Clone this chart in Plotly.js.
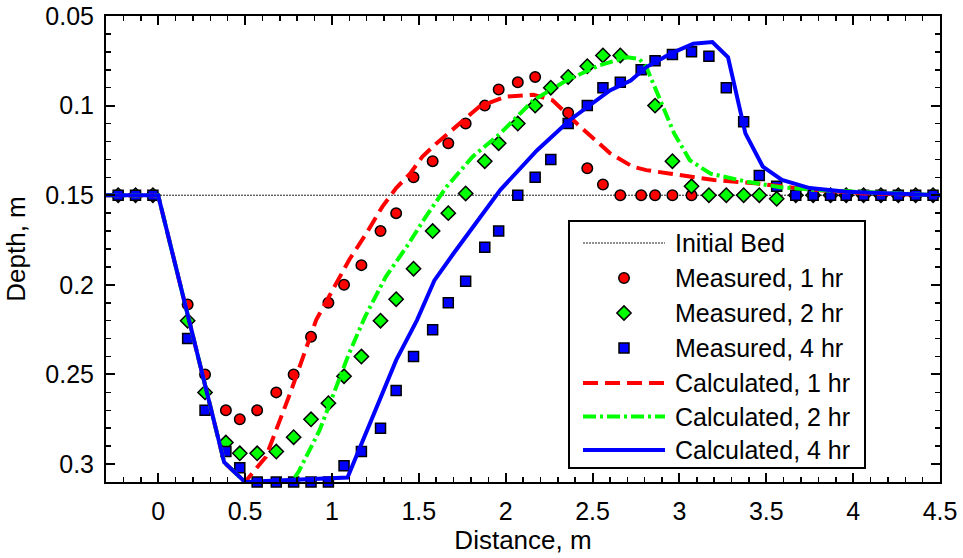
<!DOCTYPE html>
<html>
<head>
<meta charset="utf-8">
<script src="https://cdn.plot.ly/plotly-3.0.1.min.js"></script>
<style>html,body{margin:0;padding:0;background:#fff;}#chart{width:963px;height:558px;}</style>
</head>
<body>
<div id="chart"></div>
<script>
// ---- data ----
const initX = [-0.3, 4.5];
const initY = [0.15, 0.15];

const m1X = [-0.23,-0.13,-0.03,0.17,0.27,0.39,0.47,0.57,0.68,0.78,0.88,0.98,1.07,1.17,1.28,1.37,1.47,1.58,1.67,1.77,1.88,1.96,2.07,2.17,2.36,2.47,2.56,2.66,2.78,2.86,2.96,3.07];
const m1Y = [0.15,0.15,0.15,0.211,0.250,0.270,0.275,0.270,0.260,0.250,0.229,0.210,0.200,0.189,0.170,0.160,0.140,0.131,0.121,0.110,0.100,0.091,0.087,0.084,0.104,0.135,0.144,0.15,0.15,0.15,0.15,0.15];

const m2X = [-0.23,-0.13,-0.03,0.17,0.27,0.39,0.47,0.57,0.68,0.78,0.88,0.98,1.07,1.17,1.28,1.37,1.47,1.58,1.67,1.77,1.88,1.96,2.07,2.17,2.26,2.36,2.47,2.56,2.66,2.86,2.96,3.07,3.17,3.27,3.37,3.46,3.56,3.67,3.77,3.87,3.96,4.06,4.16,4.26,4.36,4.46];
const m2Y = [0.15,0.15,0.15,0.220,0.260,0.288,0.294,0.294,0.293,0.285,0.275,0.266,0.251,0.240,0.220,0.208,0.191,0.170,0.160,0.149,0.131,0.121,0.110,0.100,0.090,0.084,0.078,0.072,0.072,0.100,0.131,0.145,0.15,0.15,0.15,0.15,0.152,0.15,0.15,0.15,0.15,0.15,0.15,0.15,0.15,0.15];

const m4X = [-0.23,-0.13,-0.03,0.17,0.27,0.39,0.47,0.57,0.68,0.78,0.88,0.98,1.07,1.17,1.28,1.37,1.47,1.58,1.67,1.77,1.88,1.96,2.07,2.17,2.26,2.36,2.47,2.56,2.66,2.78,2.86,2.96,3.07,3.17,3.27,3.37,3.46,3.56,3.67,3.77,3.87,3.96,4.06,4.16,4.26,4.36,4.46];
const m4Y = [0.15,0.15,0.15,0.230,0.270,0.293,0.302,0.31,0.31,0.31,0.31,0.31,0.301,0.293,0.280,0.259,0.240,0.225,0.210,0.198,0.179,0.170,0.150,0.140,0.130,0.110,0.100,0.090,0.087,0.080,0.075,0.0715,0.070,0.0725,0.090,0.109,0.139,0.145,0.15,0.15,0.15,0.15,0.15,0.15,0.15,0.15,0.15];

const c1X = [-0.3,0,0.38,0.5,0.62,0.76,0.91,1.005,1.10,1.2,1.29,1.37,1.45,1.52,1.60,1.85,2.0,2.16,2.27,2.41,2.6,2.73,2.81,2.95,3.2,3.45,3.77,4.06,4.5];
const c1Y = [0.15,0.15,0.299,0.31,0.296,0.2605,0.2195,0.203,0.186,0.171,0.1565,0.146,0.138,0.1286,0.1212,0.1005,0.095,0.094,0.097,0.110,0.1265,0.134,0.136,0.138,0.1415,0.1435,0.147,0.149,0.15];

const c2X = [-0.3,0,0.38,0.5,0.77,0.81,0.93,1.1,1.19,1.31,1.43,1.54,1.66,1.81,1.97,2.16,2.35,2.54,2.7,2.77,2.81,2.89,2.97,3.06,3.18,3.39,3.58,3.77,4.5];
const c2Y = [0.15,0.15,0.299,0.31,0.31,0.304,0.281,0.238,0.218,0.1955,0.1788,0.1621,0.1453,0.1285,0.1155,0.097,0.086,0.0775,0.073,0.074,0.0785,0.097,0.1155,0.1305,0.138,0.1425,0.1455,0.147,0.15];

const c4X = [-0.3,0,0.38,0.5,1.09,1.37,1.49,1.59,1.70,1.81,1.97,2.18,2.37,2.6,2.72,2.81,2.95,3.08,3.19,3.28,3.38,3.48,3.59,3.75,3.96,4.5];
const c4Y = [0.15,0.15,0.299,0.31,0.3075,0.242,0.2197,0.1975,0.1825,0.1677,0.147,0.125,0.108,0.0915,0.086,0.0785,0.071,0.0655,0.0645,0.073,0.1155,0.134,0.1415,0.146,0.148,0.15];

const seriesNames = ["Initial Bed","Measured, 1 hr","Measured, 2 hr","Measured, 4 hr","Calculated, 1 hr","Calculated, 2 hr","Calculated, 4 hr"];

const xTickVals = [0,0.5,1,1.5,2,2.5,3,3.5,4,4.5];
const xTickText = ["0","0.5","1","1.5","2","2.5","3","3.5","4","4.5"];
const yTickVals = [0.05,0.1,0.15,0.2,0.25,0.3];
const yTickText = ["0.05","0.1","0.15","0.2","0.25","0.3"];

// ---- styles ----
const FONT = "Liberation Sans, Arial, Helvetica, sans-serif";
const RED = "#ff0000", GREEN = "#00ff00", BLUE = "#0000ff";
const styles = [
  {mode:"lines", line:{color:"#222", width:1, dash:"2px,1px"}},
  {mode:"markers", marker:{symbol:"circle", size:10.5, color:RED, line:{color:"#000", width:1.5}}},
  {mode:"markers", marker:{symbol:"diamond", size:11, color:GREEN, line:{color:"#000", width:1.5}}},
  {mode:"markers", marker:{symbol:"square", size:10, color:BLUE, line:{color:"#000", width:1.5}}},
  {mode:"lines", line:{color:RED, width:4, dash:"15px,7px"}},
  {mode:"lines", line:{color:GREEN, width:4, dash:"13px,4px,3px,4px"}},
  {mode:"lines", line:{color:BLUE, width:4}}
];
const xs = [initX,m1X,m2X,m4X,c1X,c2X,c4X];
const ys = [initY,m1Y,m2Y,m4Y,c1Y,c2Y,c4Y];

const traces = xs.map((x,i)=>Object.assign({
  type:"scatter", x:x, y:ys[i], name:seriesNames[i], showlegend:false,
  cliponaxis:false, hoverinfo:"skip"
}, styles[i]));

// ---- custom legend (layout geometry in pixels of the 963x558 page) ----
const W = 963, H = 558, ML = 106, MR = 23, MT = 16, MB = 76;
const PW = W-ML-MR, PH = H-MT-MB;
const px2x = p => (p-ML)/PW;
const py2y = p => (H-MB-p)/PH;
const legBox = {x0:569, x1:865, y0:221, y1:468};
const legRows = [243, 278, 313, 348, 383, 416.5, 450];
const legLine = [583, 665], legMark = 624, legText = 673;

const shapes = [{
  type:"rect", xref:"paper", yref:"paper",
  x0:px2x(legBox.x0), x1:px2x(legBox.x1), y0:py2y(legBox.y1), y1:py2y(legBox.y0),
  line:{color:"#000", width:2}, fillcolor:"#fff", layer:"below"
}];
const annotations = [];
seriesNames.forEach((nm,i)=>{
  const yy = py2y(legRows[i]);
  annotations.push({xref:"paper", yref:"paper", x:px2x(legText), y:yy, xanchor:"left", yanchor:"middle",
    text:nm, showarrow:false, font:{family:FONT, size:25, color:"#000"}});
  const st = styles[i];
  if (st.mode === "lines") {
    traces.push({type:"scatter", xaxis:"x2", yaxis:"y2", x:[px2x(legLine[0]), px2x(legLine[1])], y:[yy,yy],
      mode:"lines", line:st.line, showlegend:false, hoverinfo:"skip", cliponaxis:false});
  } else {
    traces.push({type:"scatter", xaxis:"x2", yaxis:"y2", x:[px2x(legMark)], y:[yy],
      mode:"markers", marker:st.marker, showlegend:false, hoverinfo:"skip", cliponaxis:false});
  }
});

const axisCommon = {
  showline:true, linecolor:"#000", linewidth:2, mirror:"ticks",
  ticks:"inside", ticklen:9, tickwidth:2, tickcolor:"#000",
  showgrid:false, zeroline:false,
  tickfont:{family:FONT, size:25, color:"#000"}
};

const layout = {
  width:W, height:H,
  margin:{l:ML, r:MR, t:MT, b:MB, pad:0},
  paper_bgcolor:"#fff", plot_bgcolor:"#fff",
  font:{family:FONT, color:"#000"},
  showlegend:false,
  xaxis:Object.assign({}, axisCommon, {
    range:[-0.3,4.5], tickmode:"array", tickvals:xTickVals, ticktext:xTickText,
    minor:{dtick:0.1, tick0:0, ticks:"inside", ticklen:5, tickwidth:1.5, tickcolor:"#000"},
    ticklabelstandoff:6,
    title:{text:"Distance, m", font:{family:FONT, size:26, color:"#000"}, standoff:6},
    automargin:false
  }),
  yaxis:Object.assign({}, axisCommon, {
    range:[0.31,0.05], tickmode:"array", tickvals:yTickVals, ticktext:yTickText,
    minor:{dtick:0.01, tick0:0, ticks:"inside", ticklen:5, tickwidth:1.5, tickcolor:"#000"},
    ticklabelstandoff:5,
    title:{text:"Depth, m", font:{family:FONT, size:26, color:"#000"}, standoff:12},
    automargin:false
  }),
  xaxis2:{overlaying:"x", anchor:"y2", range:[0,1], visible:false, fixedrange:true},
  yaxis2:{overlaying:"y", anchor:"x2", range:[0,1], visible:false, fixedrange:true},
  shapes:shapes,
  annotations:annotations
};

Plotly.newPlot("chart", traces, layout, {staticPlot:true, displayModeBar:false});
</script>
</body>
</html>
